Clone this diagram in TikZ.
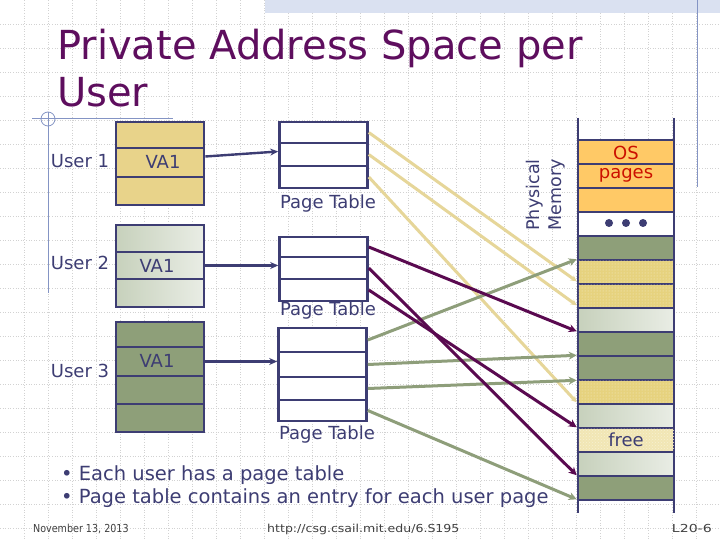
\documentclass[tikz,border=0pt]{standalone}
\usepackage{fontspec}
\setmainfont{DejaVu Sans}
\usetikzlibrary{arrows.meta,patterns}
\definecolor{navy}{HTML}{3D3D73}
\definecolor{titlec}{HTML}{5E0E5E}
\definecolor{ylwbox}{HTML}{E8D38A}
\definecolor{grnbox}{HTML}{8E9F79}
\definecolor{lgtL}{HTML}{C7D1BC}
\definecolor{lgtR}{HTML}{E9EDE5}
\definecolor{orng}{HTML}{FFC966}
\definecolor{memylw}{HTML}{E6D27E}
\definecolor{freec}{HTML}{F1E6B4}
\definecolor{ylwline}{HTML}{E6D699}
\definecolor{purline}{HTML}{5A0A50}
\definecolor{grnline}{HTML}{8E9E7A}
\definecolor{gridc}{HTML}{D2D2D2}
\definecolor{decor}{HTML}{8494C4}
\definecolor{bandc}{HTML}{DAE1F1}
\definecolor{osred}{HTML}{CC1100}
\tikzset{
  cell/.style={draw=navy, line width=2.6pt, inner sep=0pt, minimum width=#1},
  cell/.default=88pt,
  lbl/.style={text=navy, font=\fontsize{18}{21}\selectfont, inner sep=0pt},
  foot/.style={text=black!75, font=\fontsize{11}{13}\selectfont, inner sep=0pt},
  vaarrow/.style={draw=navy, line width=2.4pt, -{Stealth[length=8pt,width=7pt]}},
  ylink/.style={draw=ylwline, line width=3pt, -{Stealth[length=6pt,width=6pt]}},
  plink/.style={draw=purline, line width=3pt, -{Stealth[length=8pt,width=8pt]}},
  glink/.style={draw=grnline, line width=3pt, -{Stealth[length=8pt,width=8pt]}},
}
\begin{document}
\begin{tikzpicture}[x=1pt,y=-1pt]
\useasboundingbox (0,0) rectangle (720,540);
\fill[white] (0,0) rectangle (720,540);
% background grid
\foreach \gx in {24,48,...,720} \draw[gridc, line width=0.6pt, dotted] (\gx,0) -- (\gx,540);
\foreach \gy in {24,48,...,528} \draw[gridc, line width=0.6pt, dotted] (0,\gy) -- (720,\gy);
% top band and template decorations
\fill[bandc] (265,0) rectangle (720,13);
\draw[decor, line width=1pt] (697,0) -- (697,187);
\draw[decor, line width=1pt] (32,119) -- (173,119);
\draw[decor, line width=1pt] (48,112) -- (48,293);
\draw[decor, line width=0.8pt] (48,119) circle (7);
% title
\node[anchor=base west, text=titlec, font=\fontsize{40}{46}\selectfont, inner sep=0pt] (title1) at (57,60) {Private Address Space per};
\node[anchor=base west, text=titlec, font=\fontsize{40}{46}\selectfont, inner sep=0pt] (title2) at (57,107) {User};
% user 1
\node[cell, fill=ylwbox, minimum height=26pt] (u1a) at (160,135) {};
\node[cell, fill=ylwbox, minimum height=29pt] (u1b) at (160,162.5) {};
\node[cell, fill=ylwbox, minimum height=28pt] (u1c) at (160,191) {};
\node[lbl] (va1) at (163,162) {VA1};
\node[lbl] (user1) at (80,161) {User 1};
% user 2
\node[cell, left color=lgtL, right color=lgtR, minimum height=27pt] (u2a) at (160,238.5) {};
\node[cell, left color=lgtL, right color=lgtR, minimum height=27pt] (u2b) at (160,265.5) {};
\node[cell, left color=lgtL, right color=lgtR, minimum height=28pt] (u2c) at (160,293) {};
\node[lbl] (va2) at (157,266) {VA1};
\node[lbl] (user2) at (80,263) {User 2};
% user 3
\node[cell, fill=grnbox, minimum height=25pt] (u3a) at (160,334.5) {};
\node[cell, fill=grnbox, minimum height=29pt] (u3b) at (160,361.5) {};
\node[cell, fill=grnbox, minimum height=28pt] (u3c) at (160,390) {};
\node[cell, fill=grnbox, minimum height=28pt] (u3d) at (160,418) {};
\node[lbl] (va3) at (157,361) {VA1};
\node[lbl] (user3) at (80,371) {User 3};
% page table 1
\node[cell, fill=white, minimum height=21pt] (p1a) at (323.5,132.5) {};
\node[cell, fill=white, minimum height=23pt] (p1b) at (323.5,154.5) {};
\node[cell, fill=white, minimum height=22pt] (p1c) at (323.5,177) {};
\node[lbl] (pt1) at (328,204) {Page Table};
% page table 2
\node[cell, fill=white, minimum height=20pt] (p2a) at (323.5,247) {};
\node[cell, fill=white, minimum height=22pt] (p2b) at (323.5,268) {};
\node[cell, fill=white, minimum height=22pt] (p2c) at (323.5,290) {};
\node[lbl] (pt2) at (328,311) {Page Table};
% page table 3
\node[cell, fill=white, minimum height=24pt] (p3a) at (322.5,340) {};
\node[cell, fill=white, minimum height=25pt] (p3b) at (322.5,364.5) {};
\node[cell, fill=white, minimum height=23pt] (p3c) at (322.5,388.5) {};
\node[cell, fill=white, minimum height=21pt] (p3d) at (322.5,410.5) {};
\node[lbl] (pt3) at (327,435) {Page Table};
% physical memory
\draw[navy, line width=2.6pt] (578,118) -- (578,513);
\draw[navy, line width=2.6pt] (674,118) -- (674,513);
\tikzset{mem/.style={cell=96pt, minimum height=24pt}}
\node[mem, fill=orng] (m1) at (626,152) {};
\node[mem, fill=orng] (m2) at (626,176) {};
\node[mem, fill=orng] (m3) at (626,200) {};
\node[mem, fill=white] (m4) at (626,224) {};
\node[mem, fill=grnbox] (m5) at (626,248) {};
\node[mem, fill=memylw, postaction={pattern=dots, pattern color=white!60!memylw}] (m6) at (626,272) {};
\node[mem, fill=memylw, postaction={pattern=dots, pattern color=white!60!memylw}] (m7) at (626,296) {};
\node[mem, left color=lgtL, right color=lgtR] (m8) at (626,320) {};
\node[mem, fill=grnbox] (m9) at (626,344) {};
\node[mem, fill=grnbox] (m10) at (626,368) {};
\node[mem, fill=memylw, postaction={pattern=dots, pattern color=white!60!memylw}] (m11) at (626,392) {};
\node[mem, left color=lgtL, right color=lgtR] (m12) at (626,416) {};
\node[mem, fill=freec, postaction={pattern=crosshatch dots, pattern color=white!40!freec}] (m13) at (626,440) {};
\node[mem, left color=lgtL, right color=lgtR] (m14) at (626,464) {};
\node[mem, fill=grnbox] (m15) at (626,488) {};
\node[text=osred, font=\fontsize{18}{21}\selectfont, inner sep=0pt] (os) at (626,153) {OS};
\node[text=osred, font=\fontsize{18}{21}\selectfont, inner sep=0pt] (pages) at (626,175) {pages};
\foreach \dx in {-17,0,17} \fill[navy] (626+\dx,223) circle (4);
\node[lbl] (free) at (626,440) {free};
\node[lbl, rotate=90, align=center, font=\fontsize{17.5}{22}\selectfont] (phys) at (546,195) {Physical\\Memory};
% VA arrows
\draw[vaarrow] ([yshift=6pt]u1b.east) -- ([yshift=3pt]p1b.west);
\draw[vaarrow] (u2b.east) -- (u2b.east -| p2b.west);
\draw[vaarrow] (u3b.east) -- (u3b.east -| p3b.west);
% page table 1 links (yellow)
\draw[ylink] (p1a.east) -- ([yshift=4pt]m6.south west);
\draw[ylink] (p1b.east) -- ([yshift=4pt]m7.south west);
\draw[ylink] (p1c.east) -- ([yshift=3pt]m11.south west);
% page table 3 links (green)
\draw[glink] (p3a.east) -- ([yshift=2pt]m5.south west);
\draw[glink] (p3b.east) -- ([yshift=2pt]m9.south west);
\draw[glink] (p3c.east) -- ([yshift=1pt]m10.south west);
\draw[glink] (p3d.east) -- ([yshift=2pt]m15.south west);
% page table 2 links (purple)
\draw[plink] (p2a.east) -- ([yshift=2pt]m8.south west);
\draw[plink] (p2b.east) -- ([yshift=2pt]m14.south west);
\draw[plink] (p2c.east) -- ([yshift=2pt]m12.south west);
% bullets
\node[anchor=base west, text=navy, font=\fontsize{19.5}{23}\selectfont, inner sep=0pt] (b1) at (61,480) {• Each user has a page table};
\node[anchor=base west, text=navy, font=\fontsize{19.5}{23}\selectfont, inner sep=0pt] (b2) at (61,503) {• Page table contains an entry for each user page};
% footer
\node[foot, anchor=base west, xscale=0.87] (date) at (33,532) {November 13, 2013};
\node[foot, anchor=base west, xscale=1.14] (url) at (267,532) {http://csg.csail.mit.edu/6.S195};
\node[foot, anchor=base east, xscale=1.28] (slide) at (712,532) {L20-6};
\end{tikzpicture}
\end{document}
